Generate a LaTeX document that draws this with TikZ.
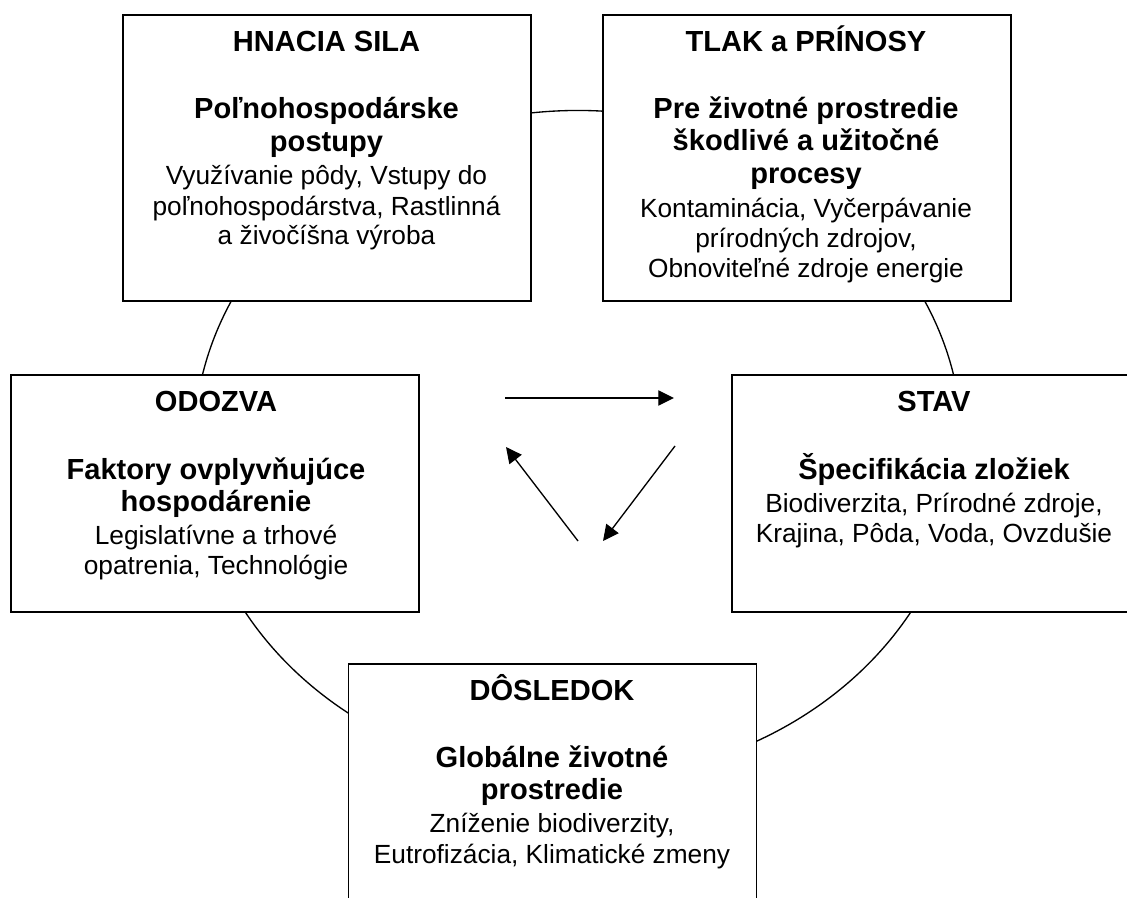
\documentclass[tikz,border=0pt]{standalone}
\usepackage{fontspec}
\setmainfont{Liberation Sans}
\usetikzlibrary{arrows.meta}
\begin{document}
\begin{tikzpicture}[x=0.75pt,y=-0.75pt,
  box/.style={draw=black,line width=1.4pt,fill=white,inner sep=0pt,outer sep=0pt,minimum width=306pt},
  tall/.style={minimum height=214.5pt},
  mid/.style={minimum height=177.75pt},
  ttl/.style={anchor=base,inner sep=0pt,font=\bfseries\fontsize{21.8}{24}\selectfont},
  bod/.style={anchor=base,inner sep=0pt,font=\fontsize{19.7}{22}\selectfont},
  arr/.style={line width=1pt,-{Triangle[length=11.8pt,width=11.5pt]}},
  ring/.style={line width=1pt}]
\useasboundingbox (0,0) rectangle (1127,898);
\clip (0,0) rectangle (1127,898);
\fill[white] (0,0) rectangle (1127,898);
% cycle ring
\draw[ring] (578,445) ellipse [x radius=288pt, y radius=250.9pt];
% boxes
\node[box,tall] (hn) at (327,158) {};
\node[box,tall] (tl) at (807,158) {};
\node[box,mid] (od) at (215,493.5) {};
\node[box,mid] (st) at (936,493.5) {};
\node[box,tall] (ds) at (552.5,807) {};
% HNACIA SILA
\node[ttl] (h0) at (326.5,51.3) {HNACIA SILA};
\node[ttl] (h1) at (326.5,119) {Poľnohospodárske};
\node[ttl] (h2) at (326.5,151.5) {postupy};
\node[bod] (h3) at (326.5,184.7) {Využívanie pôdy, Vstupy do};
\node[bod] (h4) at (326.5,215.2) {poľnohospodárstva, Rastlinná};
\node[bod] (h5) at (326.5,245) {a živočíšna výroba};
% TLAK a PRINOSY
\node[ttl] (t0) at (806,51.3) {TLAK a PRÍNOSY};
\node[ttl] (t1) at (806,118.3) {Pre životné prostredie};
\node[ttl] (t2) at (806,150.8) {škodlivé a užitočné};
\node[ttl] (t3) at (806,183.3) {procesy};
\node[bod] (t4) at (806,218) {Kontaminácia, Vyčerpávanie};
\node[bod] (t5) at (806,248) {prírodných zdrojov,};
\node[bod] (t6) at (806,277.5) {Obnoviteľné zdroje energie};
% ODOZVA
\node[ttl] (o0) at (216,411.3) {ODOZVA};
\node[ttl] (o1) at (216,479) {Faktory ovplyvňujúce};
\node[ttl] (o2) at (216,511.5) {hospodárenie};
\node[bod] (o3) at (216,544.5) {Legislatívne a trhové};
\node[bod] (o4) at (216,574.5) {opatrenia, Technológie};
% STAV
\node[ttl] (s0) at (934,411.3) {STAV};
\node[ttl] (s1) at (934,479) {Špecifikácia zložiek};
\node[bod] (s2) at (934,512.3) {Biodiverzita, Prírodné zdroje,};
\node[bod] (s3) at (934,542.3) {Krajina, Pôda, Voda, Ovzdušie};
% DOSLEDOK
\node[ttl] (d0) at (552,700) {DÔSLEDOK};
\node[ttl] (d1) at (552,767) {Globálne životné};
\node[ttl] (d2) at (552,799.5) {prostredie};
\node[bod] (d3) at (552,832.5) {Zníženie biodiverzity,};
\node[bod] (d4) at (552,863.7) {Eutrofizácia, Klimatické zmeny};
% central arrows
\coordinate (a1s) at (505,398);
\coordinate (a1e) at (674,398);
\coordinate (a2s) at (675,446);
\coordinate (a2e) at (603,541);
\coordinate (a3s) at (578,541);
\coordinate (a3e) at (506,447);
\draw[arr] (a1s) -- (a1e);
\draw[arr] (a2s) -- (a2e);
\draw[arr] (a3s) -- (a3e);
\end{tikzpicture}
\end{document}
